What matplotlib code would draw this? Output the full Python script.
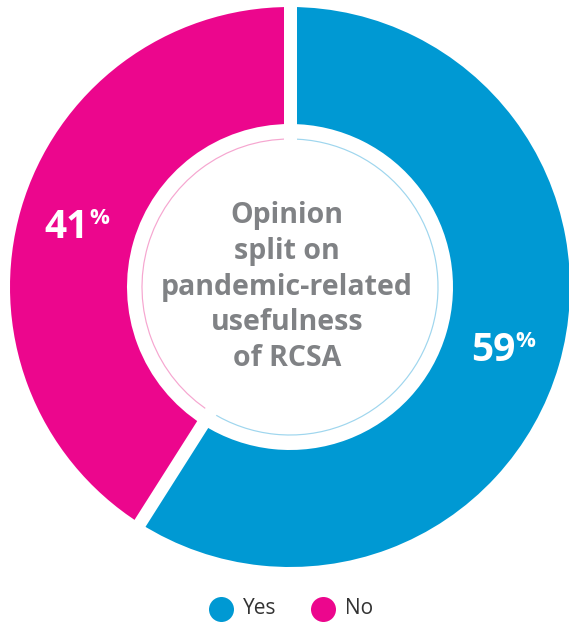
# -*- coding: utf-8 -*-

import numpy as np
import matplotlib as mpl
mpl.use('Agg')
import matplotlib.pyplot as plt

labels = ["Yes", "No"]
values = [59, 41]
colors = ["#0099d3", "#ec068d"]
ring_colors = ["#9fd6ee", "#f6a6d0"]
center_text = "Opinion\nsplit on\npandemic-related\nusefulness\nof RCSA"

W, H = 569, 624
cx, cy = 290, H - 287   # donut centre in pixel units (y up)
R_out = 280
R_in = 163
R_ring = 148

plt.rcParams["font.family"] = ["Open Sans", "DejaVu Sans"]

fig = plt.figure(figsize=(W / 100, H / 100), dpi=100)
ax = fig.add_axes([0, 0, 1, 1])

# blue runs clockwise from the top, pink fills the rest
wedges, _ = ax.pie(values, colors=colors, startangle=90, counterclock=False,
                   radius=R_out, center=(cx, cy), frame=True,
                   wedgeprops=dict(width=R_out - R_in, linewidth=0))

# faint thin ring inside the hole
ax.pie(values, colors=ring_colors, startangle=90, counterclock=False,
       radius=R_ring + 0.6, center=(cx, cy), frame=True,
       wedgeprops=dict(width=1.2, linewidth=0))
ax.set_xlim(0, W)
ax.set_ylim(0, H)
ax.set_aspect("equal")
ax.axis("off")

# white gaps between the segments
px = 72.0 / fig.dpi
for w in wedges:
    a = np.deg2rad(w.theta1)
    ax.plot([cx + (R_in - 30) * np.cos(a), cx + (R_out + 5) * np.cos(a)],
            [cy + (R_in - 30) * np.sin(a), cy + (R_out + 5) * np.sin(a)],
            color="white", linewidth=13 * px, solid_capstyle="butt")

# percentage labels, % raised like a superscript
for w, v in zip(wedges, values):
    mid = np.deg2rad((w.theta1 + w.theta2) / 2)
    x = cx + 222 * np.cos(mid)
    y = cy + 222 * np.sin(mid)
    t = ax.text(x - 10, y - 2, str(v), color="white", fontsize=28,
                fontweight="bold", ha="center", va="center")
    ax.annotate("%", xy=(1.0, 1.0), xycoords=t, color="white", fontsize=16,
                fontweight="bold", ha="left", va="top")

ax.text(cx - 3, cy, center_text, color="#808285", fontsize=20.5,
        fontweight="bold", ha="center", va="center", linespacing=1.3)

# legend
leg_y = H - 609
for x, lab, c in [(221, labels[0], colors[0]), (323, labels[1], colors[1])]:
    ax.scatter([x], [leg_y], s=(25 * px) ** 2, color=c, linewidths=0)
    ax.text(x + 22, leg_y, lab, color="#333333", fontsize=15,
            ha="left", va="center")

plt.savefig("out.png", dpi=100)
